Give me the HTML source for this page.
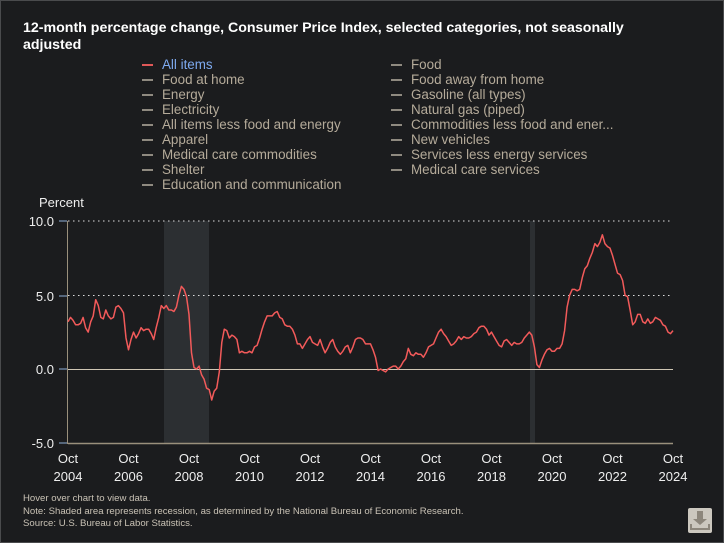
<!DOCTYPE html>
<html><head><meta charset="utf-8"><style>
body{margin:0;background:#1b1c1e;}
#c{position:relative;width:722px;height:541px;border:1px solid #4a4b4d;background:#1b1c1e;font-family:"Liberation Sans",sans-serif;overflow:hidden}
.t{position:absolute;left:22px;top:19px;width:660px;color:#fff;font-weight:bold;font-size:14.2px;line-height:17px}
.lg{position:absolute;font-size:13.4px;color:#b5ab9a;white-space:nowrap}
.lg span{display:inline-block;width:11px;height:2px;background:#8f8a80;vertical-align:middle;margin-right:9px}
.fn{position:absolute;left:22px;top:492px;font-size:9.6px;line-height:12.5px;color:#c9c2b5}
</style></head><body><div id="c">
<div class="t">12-month percentage change, Consumer Price Index, selected categories, not seasonally<br>adjusted</div>
<div id="L"></div>
<svg width="722" height="541" style="position:absolute;left:0;top:0" font-family="Liberation Sans, sans-serif">
<text x="38" y="206" fill="#eee" font-size="13">Percent</text>
<rect x="163" y="220" width="45" height="222" fill="#2c2f32"/>
<rect x="529" y="220" width="5" height="222" fill="#2c2f32"/>
<line x1="67" y1="220" x2="672" y2="220" stroke="#ddd" stroke-dasharray="1.5,3.5"/>
<line x1="67" y1="294.5" x2="672" y2="294.5" stroke="#ddd" stroke-dasharray="1.5,3.5"/>
<line x1="67" y1="368.5" x2="672" y2="368.5" stroke="#cfc6b4"/>
<line x1="67" y1="442.5" x2="672" y2="442.5" stroke="#9a907c" stroke-width="1.5"/>
<line x1="66.5" y1="220" x2="66.5" y2="443" stroke="#9a907c"/>
<g stroke="#8fb0d8"><line x1="58" y1="220" x2="66" y2="220"/><line x1="58" y1="295" x2="66" y2="295"/><line x1="58" y1="368" x2="66" y2="368"/><line x1="58" y1="442" x2="66" y2="442"/></g>
<g fill="#eee" font-size="13" text-anchor="end"><text x="53" y="225">10.0</text><text x="53" y="300">5.0</text><text x="53" y="373">0.0</text><text x="53" y="447">-5.0</text></g>
<g id="X" fill="#eee" font-size="13" text-anchor="middle"></g>
<path id="P" fill="none" stroke="#f25a5a" stroke-width="1.5" stroke-linejoin="round"/>
<rect x="687" y="507" width="24" height="25" rx="2" fill="#ccc8bf"/>
<path d="M696 510h6v8h4l-7 6-7-6h4z" fill="#8d877c"/>
<path d="M690 523v5h18v-5" stroke="#8d877c" stroke-width="2" fill="none"/>
</svg>
<div class="fn">Hover over chart to view data.<br>Note: Shaded area represents recession, as determined by the National Bureau of Economic Research.<br>Source: U.S. Bureau of Labor Statistics.</div>
</div>
<script>
var a=["All items","Food","Food at home","Food away from home","Energy","Gasoline (all types)","Electricity","Natural gas (piped)","All items less food and energy","Commodities less food and ener...","Apparel","New vehicles","Medical care commodities","Services less energy services","Shelter","Medical care services","Education and communication"];
var h="";a.forEach(function(s,i){var c=i%2,r=Math.floor(i/2);h+='<div class="lg" style="left:'+(c?390:141)+'px;top:'+(56+r*15)+'px'+(i==0?';color:#7eaaf0':'')+'"><span'+(i==0?' style="background:#e05858"':'')+'></span>'+s+'</div>';});
document.getElementById("L").innerHTML=h;
var d=[3.2,3.5,3.3,3.0,3.0,3.1,3.5,2.8,2.5,3.2,3.6,4.7,4.3,3.5,3.4,4.0,3.6,3.4,3.5,4.2,4.3,4.1,3.8,2.1,1.3,2.0,2.5,2.1,2.4,2.8,2.6,2.7,2.7,2.4,2.0,2.8,3.5,4.3,4.1,4.3,4.0,4.0,3.9,4.2,5.0,5.6,5.4,4.9,3.7,1.1,0.1,0.0,0.2,-0.4,-0.7,-1.3,-1.4,-2.1,-1.5,-1.3,-0.2,1.8,2.7,2.6,2.1,2.3,2.2,2.0,1.1,1.2,1.1,1.1,1.2,1.1,1.5,1.6,2.1,2.7,3.2,3.6,3.6,3.6,3.8,3.9,3.5,3.4,3.0,2.9,2.9,2.7,2.3,1.7,1.7,1.4,1.7,2.0,2.2,1.8,1.7,1.6,2.0,1.5,1.1,1.4,1.8,2.0,1.5,1.2,1.0,1.2,1.5,1.6,1.1,1.5,2.0,2.1,2.1,2.0,1.7,1.7,1.7,1.3,0.8,-0.1,0.0,-0.1,-0.2,0.0,0.1,0.2,0.2,0.0,0.2,0.5,0.7,1.4,1.0,0.9,1.1,1.0,1.0,0.8,1.1,1.5,1.6,1.7,2.1,2.5,2.7,2.4,2.2,1.9,1.6,1.7,1.9,2.2,2.0,2.2,2.1,2.1,2.2,2.4,2.5,2.8,2.9,2.9,2.7,2.3,2.5,2.2,1.9,1.6,1.5,1.9,2.0,1.8,1.6,1.8,1.7,1.7,1.8,2.1,2.3,2.5,2.3,1.5,0.3,0.1,0.6,1.0,1.3,1.4,1.2,1.2,1.4,1.4,1.7,2.6,4.2,5.0,5.4,5.4,5.3,5.4,6.2,6.8,7.0,7.5,7.9,8.5,8.3,8.6,9.1,8.5,8.3,8.2,7.7,7.1,6.5,6.4,6.0,5.0,4.9,4.0,3.0,3.2,3.7,3.7,3.2,3.1,3.4,3.1,3.2,3.5,3.4,3.3,3.0,2.9,2.5,2.4,2.6];
var p="";d.forEach(function(v,i){p+=(i?"L":"M")+(67+i*605/240).toFixed(1)+" "+(368-v*14.75).toFixed(1);});
document.getElementById("P").setAttribute("d",p);
var x="";for(var i=0;i<=10;i++){var xx=67+i*60.5;x+='<text x="'+xx+'" y="462">Oct</text><text x="'+xx+'" y="480">'+(2004+2*i)+'</text>';}
document.getElementById("X").innerHTML=x;
</script>
</body></html>
